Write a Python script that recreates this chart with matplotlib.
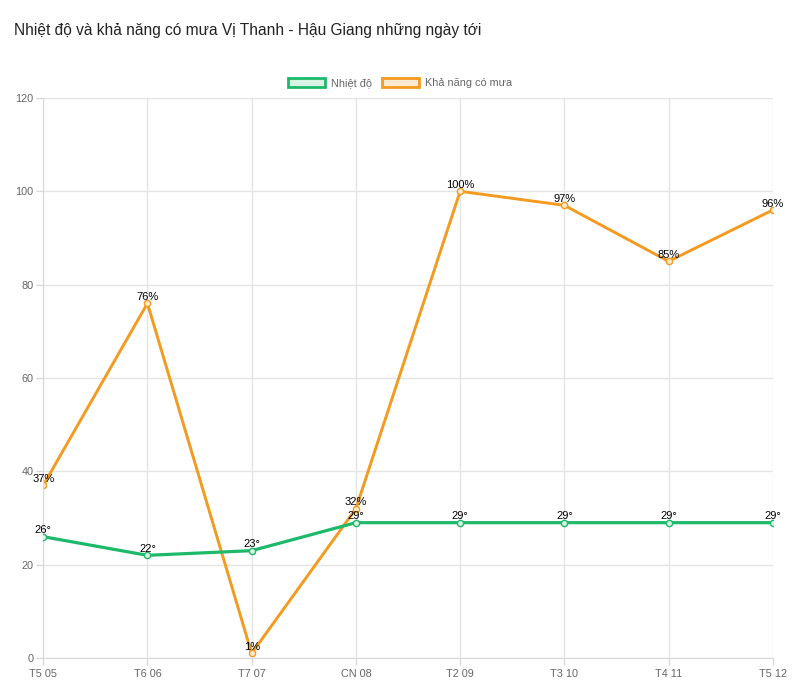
import matplotlib
matplotlib.use("Agg")
import matplotlib.pyplot as plt
from matplotlib.patches import Patch

# Dữ liệu
days = ['T5 05', 'T6 06', 'T7 07', 'CN 08', 'T2 09', 'T3 10', 'T4 11', 'T5 12']
temperature = [26, 22, 23, 29, 29, 29, 29, 29]
rain_chance = [37, 76, 1, 32, 100, 97, 85, 96]

green = '#1cb96b'
orange = '#f39a1f'
grid_color = '#e4e4e4'
tick_color = '#666666'

plt.rcParams['font.family'] = ['Liberation Sans', 'DejaVu Sans']

fig = plt.figure(figsize=(8, 6.98), dpi=100)
ax = fig.add_axes([0.054, 0.0573, 0.912, 0.8023])

x = list(range(len(days)))
ax.plot(x, temperature, color=green, lw=2.3, marker='o', ms=4.5,
        mfc='#d6f3e4', mec=green, mew=1, zorder=3)
ax.plot(x, rain_chance, color=orange, lw=2.1, marker='o', ms=4.5,
        mfc='#fde9cf', mec=orange, mew=1, zorder=2)

for xi, v in zip(x, temperature):
    ax.annotate(f'{v}°', (xi, v), xytext=(0, 1), textcoords='offset points',
                ha='center', va='bottom', fontsize=8, color='black', zorder=5)
for xi, v in zip(x, rain_chance):
    ax.annotate(f'{v}%', (xi, v), xytext=(0, 1), textcoords='offset points',
                ha='center', va='bottom', fontsize=8, color='black', zorder=5)

ax.set_ylim(0, 120)
ax.set_xlim(0, len(days) - 1)
ax.set_yticks(range(0, 121, 20))
ax.set_xticks(x)
ax.set_xticklabels(days)
ax.grid(True, color=grid_color, lw=1)
ax.set_axisbelow(True)
for side in ['top', 'right']:
    ax.spines[side].set_visible(False)
for side in ['left', 'bottom']:
    ax.spines[side].set_color('#d9d9d9')
ax.tick_params(colors=tick_color, labelsize=7.8, length=5, width=1, pad=3)
ax.tick_params(axis='both', color='#d9d9d9', labelcolor=tick_color)
ax.tick_params(axis='y', pad=2)

fig.text(0.0175, 0.957, 'Nhiệt độ và khả năng có mưa Vị Thanh - Hậu Giang những ngày tới',
         fontsize=11.2, color='#222222', ha='left', va='center')

handles = [Patch(facecolor='#d6f3e4', edgecolor=green, lw=2),
           Patch(facecolor='#fde9cf', edgecolor=orange, lw=2)]
fig.legend(handles, ['Nhiệt độ', 'Khả năng có mưa'], loc='center',
           bbox_to_anchor=(0.5, 0.881), ncol=2, frameon=False, fontsize=7.8,
           labelcolor=tick_color, handlelength=3.4, handleheight=1.0,
           columnspacing=1.0, handletextpad=0.5)

fig.savefig('out.png', dpi=100, facecolor='white')
